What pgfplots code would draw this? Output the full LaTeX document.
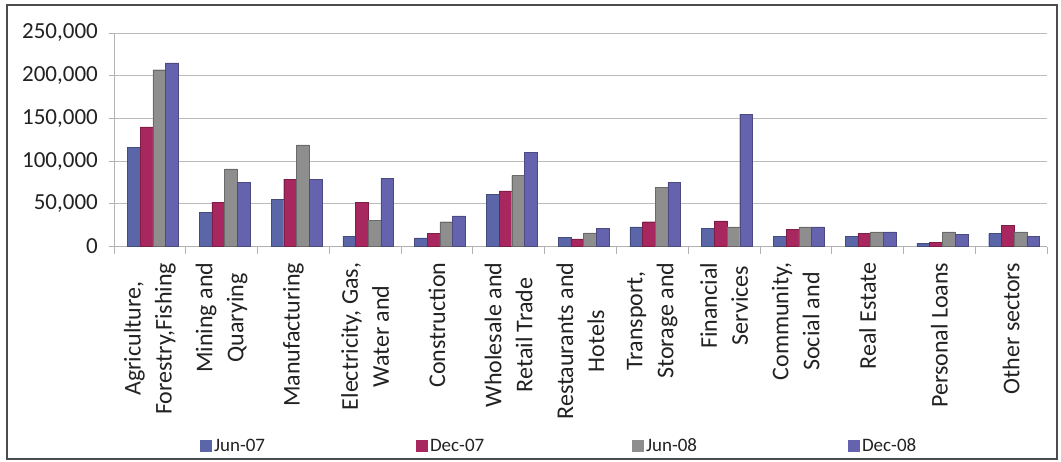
\documentclass[border=0pt]{standalone}
\usepackage{pgfplots}
\pgfplotsset{compat=1.18}
\usepackage{pgfplotstable}
\usepackage{fontspec}
\setmainfont{Carlito}

\definecolor{cJunA}{HTML}{5A66A8}
\definecolor{cDecA}{HTML}{A8275E}
\definecolor{cJunB}{HTML}{8E8E8E}
\definecolor{cDecB}{HTML}{6663AE}
\definecolor{txt}{HTML}{222222}
\definecolor{gridc}{HTML}{BBBBBB}

% Loans by sector, one table per reporting date (x = sector index)
\pgfplotstableread{
x y
0 116000
1 40000
2 55000
3 12000
4 10000
5 61000
6 11000
7 23000
8 21000
9 12000
10 12000
11 4000
12 15000
}\junA
\pgfplotstableread{
x y
0 140000
1 52000
2 79000
3 52000
4 15000
5 65000
6 9000
7 29000
8 30000
9 20000
10 15000
11 5000
12 25000
}\decA
\pgfplotstableread{
x y
0 207000
1 91000
2 119000
3 31000
4 29000
5 83000
6 16000
7 69000
8 23000
9 23000
10 17000
11 17000
12 17000
}\junB
\pgfplotstableread{
x y
0 215000
1 75000
2 79000
3 80000
4 36000
5 110000
6 21000
7 75000
8 155000
9 23000
10 17000
11 14000
12 12000
}\decB

\begin{document}
\begin{tikzpicture}
\useasboundingbox (0,0) rectangle (1061pt,461pt);
\fill[white] (0,0) rectangle (1061pt,461pt);
\draw[black!70, line width=1.2pt] (7pt,2pt) rectangle (1057pt,456pt);
\begin{axis}[
  at={(114pt,214.5pt)}, anchor=south west,
  scale only axis, width=933pt, height=213.5pt,
  xmin=-0.5, xmax=12.5, ymin=0, ymax=250000,
  ybar=0pt, bar width=12.7pt,
  axis x line*=bottom, axis y line*=left,
  axis line style={black!30, line width=0.8pt},
  xtick={0,...,12},
  xticklabels={{Agriculture,\\Forestry,Fishing},{Mining and\\Quarying},{Manufacturing},{Electricity, Gas,\\Water and},{Construction},{Wholesale and\\Retail Trade},{Restaurants and\\Hotels},{Transport,\\Storage and},{Financial\\Services},{Community,\\Social and},{Real Estate},{Personal Loans},{Other sectors}},
  major x tick style={draw=none},
  minor xtick={-0.5,0.5,...,12.5},
  minor x tick style={draw=black!30, line width=0.8pt},
  minor tick length=7pt,
  tick align=outside,
  ytick={0,50000,...,250000},
  ymajorgrids=true,
  major grid style={draw=gridc, line width=1pt},
  major y tick style={draw=black!30, line width=0.8pt},
  major tick length=5pt,
  scaled y ticks=false,
  /pgf/number format/.cd, fixed, 1000 sep={,}, assume math mode=true,
  /pgfplots/.cd,
  yticklabel style={font=\fontsize{23}{27}\selectfont, text=txt, inner sep=0pt},
  yticklabel shift=11pt,
  xticklabel style={font=\fontsize{24}{31}\selectfont, text=txt, rotate=90, anchor=east, align=center, inner sep=0pt},
  xticklabel shift=11pt,
  legend columns=4,
  legend image code/.code={\fill[#1,draw=none] (0pt,-6pt) rectangle (12pt,6pt);},
  legend style={at={(axis description cs:0.092,-0.934)}, anchor=west, draw=none, fill=none, inner sep=0pt,
    font=\fontsize{19}{22}\selectfont, text=txt,
    /tikz/every even column/.append style={column sep=0pt}},
]
\addplot[fill=cJunA, draw=cJunA!75!black, line width=0.4pt, bar shift=-16.05pt] table[x=x,y=y]{\junA};
\addplot[fill=cDecA, draw=cDecA!75!black, line width=0.4pt, bar shift=-3.35pt] table[x=x,y=y]{\decA};
\addplot[fill=cJunB, draw=cJunB!75!black, line width=0.4pt, bar shift=9.35pt] table[x=x,y=y]{\junB};
\addplot[fill=cDecB, draw=cDecB!75!black, line width=0.4pt, bar shift=22.05pt] table[x=x,y=y]{\decB};
\legend{\makebox[200pt][l]{Jun-07},\makebox[200pt][l]{Dec-07},\makebox[200pt][l]{Jun-08},Dec-08}
\end{axis}
\end{tikzpicture}
\end{document}
